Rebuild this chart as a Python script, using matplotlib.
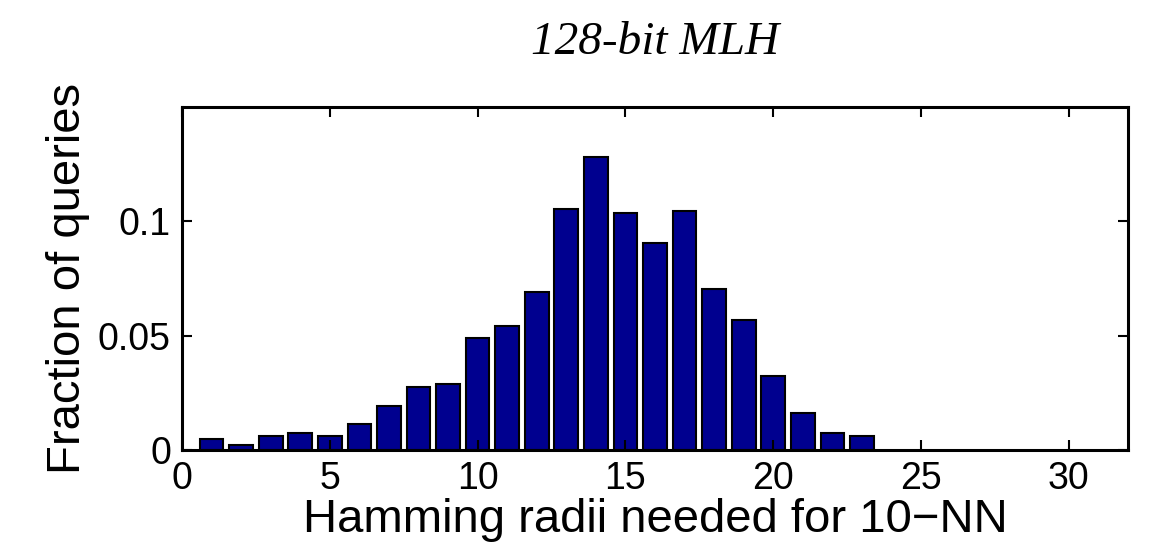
import matplotlib
matplotlib.use("Agg")
import matplotlib.pyplot as plt

# Histogram of Hamming radii needed to retrieve 10 nearest neighbours
radii = list(range(1, 24))
fractions = [0.0047, 0.0022, 0.0061, 0.0073, 0.0061, 0.0114, 0.0194, 0.0275,
             0.0289, 0.0490, 0.0541, 0.0692, 0.1053, 0.1280, 0.1038, 0.0904,
             0.1045, 0.0702, 0.0570, 0.0322, 0.0161, 0.0073, 0.0061]
xticks = [0, 5, 10, 15, 20, 25, 30]
yticks = [0, 0.05, 0.1]
ytick_labels = ["0", "0.05", "0.1"]

plt.rcParams['font.family'] = ['Liberation Sans', 'DejaVu Sans']

fig = plt.figure(figsize=(11.5, 5.44), dpi=100)
ax = fig.add_axes([182 / 1150, 1 - 450 / 544, (1128 - 182) / 1150, (450 - 107) / 544])

ax.bar(radii, fractions, width=0.8, color='#00008F', edgecolor='black', linewidth=1.5)

ax.set_xlim(0, 32)
ax.set_ylim(0, 0.15)
ax.set_xticks(xticks)
ax.set_yticks(yticks)
ax.set_yticklabels(ytick_labels)

for s in ax.spines.values():
    s.set_linewidth(2.2)
ax.tick_params(direction='in', length=7, width=1.5, top=True, right=True,
               labelsize=27)
ax.tick_params(axis='x', pad=8)
ax.tick_params(axis='y', pad=8)

ax.set_xlabel("Hamming radii needed for 10\u2212NN", fontsize=34, labelpad=1)
ax.set_ylabel("Fraction of queries", fontsize=34, labelpad=6)
ax.set_title("128-bit MLH", fontsize=34, family='Liberation Serif', style='italic', pad=38)

fig.savefig("out.png", dpi=100)
